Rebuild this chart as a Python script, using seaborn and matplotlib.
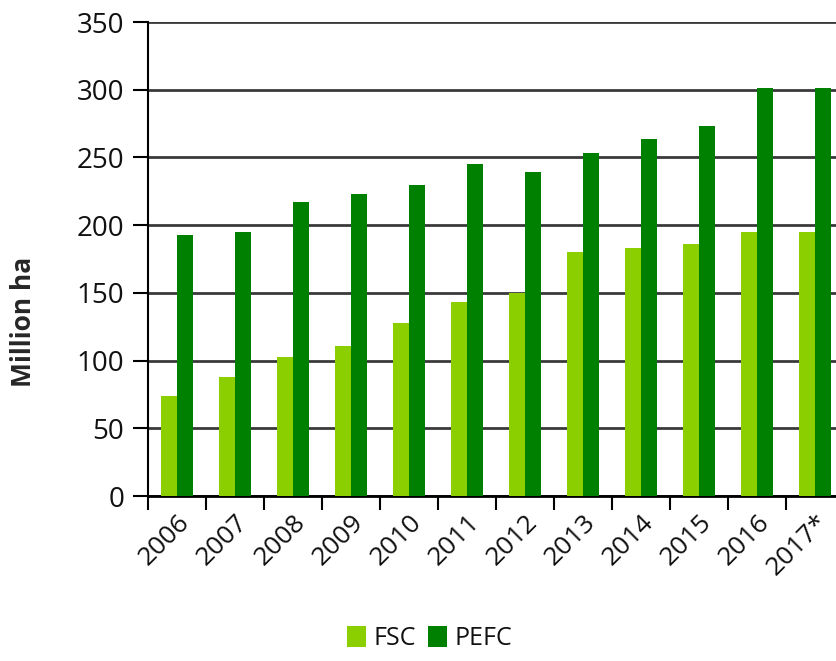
import matplotlib
matplotlib.use("Agg")
import matplotlib.pyplot as plt
import seaborn as sns
import numpy as np
import pandas as pd

years = ["2006", "2007", "2008", "2009", "2010", "2011",
         "2012", "2013", "2014", "2015", "2016", "2017*"]
fsc = [74, 88, 103, 111, 128, 143, 150, 180, 183, 186, 195, 195]
pefc = [193, 195, 217, 223, 230, 245, 239, 253, 264, 273, 301, 301]
series = ["FSC", "PEFC"]
colors = ["#8ccf00", "#008000"]

df = pd.DataFrame({
    "year": years * 2,
    "value": fsc + pefc,
    "scheme": ["FSC"] * len(years) + ["PEFC"] * len(years),
})

sns.set_style("white")
plt.rcParams['font.family'] = ['Open Sans', 'DejaVu Sans']
plt.rcParams['text.color'] = '#111111'

fig = plt.figure(figsize=(8.36, 6.61), dpi=100)
ax = fig.add_axes([0.177, 0.2496, 0.833, 0.717])

sns.barplot(data=df, x="year", y="value", hue="scheme", hue_order=series,
            palette=colors, width=0.55, gap=0, saturation=1, ax=ax,
            legend=True, linewidth=0, zorder=3)

ax.set_ylim(0, 350)
ax.set_xlim(-0.5, len(years) - 0.5)
ax.set_yticks(np.arange(0, 351, 50))
ax.yaxis.grid(True, color="#3a3a3a", linewidth=2, zorder=0)
ax.set_axisbelow(True)

for s in ["top", "right"]:
    ax.spines[s].set_visible(False)
ax.spines["left"].set_color("black")
ax.spines["left"].set_linewidth(1.5)
ax.spines["bottom"].set_color("black")
ax.spines["bottom"].set_linewidth(2)

ax.tick_params(axis="y", direction="out", length=11, width=1.5,
               color="black", labelsize=20, pad=6, left=True,
               labelcolor="#111111")
ax.set_xticks(np.arange(len(years)))
ax.set_xticklabels(years, rotation=45, ha="right", rotation_mode="anchor",
                   fontsize=19, color="#111111")
ax.tick_params(axis="x", which="major", length=0, pad=10)
ax.set_xticks(np.arange(-0.5, len(years), 1), minor=True)
ax.tick_params(axis="x", which="minor", direction="out", length=10,
               width=1.5, color="black", bottom=True)

ax.set_xlabel("")
ax.set_ylabel("Million ha", fontsize=19, fontweight="bold")
ax.yaxis.set_label_coords(-0.16, 0.367)

handles, labels = ax.get_legend_handles_labels()
ax.legend_.remove()
fig.legend(handles, labels, loc="center", bbox_to_anchor=(0.514, 0.034),
           ncol=2, frameon=False, fontsize=18, handlelength=0.75,
           handleheight=0.9, handletextpad=0.3, columnspacing=0.5)

fig.savefig("out.png", dpi=100)
